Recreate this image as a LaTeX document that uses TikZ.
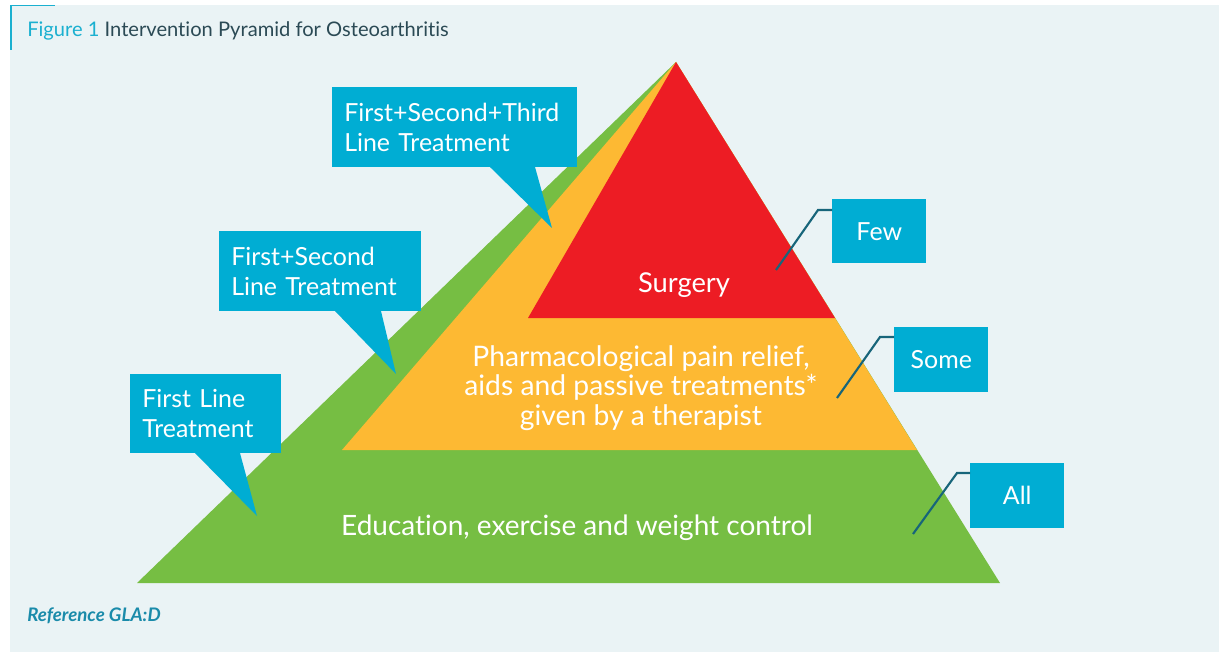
\documentclass[tikz,border=0pt]{standalone}
\usepackage{fontspec}
\setmainfont{Lato}[Ligatures={NoCommon}]
\usetikzlibrary{calc}
\definecolor{bgpanel}{HTML}{EAF3F5}
\definecolor{pgreen}{HTML}{76BE43}
\definecolor{porange}{HTML}{FDB933}
\definecolor{pred}{HTML}{ED1C24}
\definecolor{callc}{HTML}{00ADD3}
\definecolor{linkc}{HTML}{17657A}
\definecolor{titlecyan}{HTML}{1BB0D0}
\definecolor{titledark}{HTML}{2B4A55}
\definecolor{refc}{HTML}{1A8BAA}
\tikzset{
  callbox/.style={fill=callc, text=white, anchor=north west, inner ysep=0pt, inner xsep=12*0.75pt,
    font=\fontsize{18.7}{22.5}\selectfont, align=left, minimum height=80*0.75pt},
  countbox/.style={fill=callc, text=white, anchor=north west, inner sep=0pt,
    font=\fontsize{18.7}{22.5}\selectfont, align=center, minimum width=94*0.75pt, minimum height=65*0.75pt},
  tail/.style={fill=callc},
  pyrtext/.style={text=white, align=center, font=\fontsize{20.5}{22}\selectfont},
  link/.style={draw=linkc, line width=1.6pt},
}
\begin{document}
\begin{tikzpicture}[x=0.75pt,y=-0.75pt]
\useasboundingbox (0,0) rectangle (1223,652);
\fill[white] (0,0) rectangle (1223,652);
\fill[bgpanel] (10,5) rectangle (1219,652);
\draw[titlecyan, line width=0.8pt] (11,50) -- (11,5.5) -- (55,5.5);
% title
\node[anchor=base west, inner sep=0pt, font=\fontsize{15.1}{18}\selectfont] (title) at (27,37)
  {\textcolor{titlecyan}{Figure 1} \textcolor{titledark}{Intervention Pyramid for Osteoarthritis}};
\node[anchor=base west, inner sep=0pt, text=refc, font=\fontsize{14}{16}\selectfont\itshape\bfseries] (ref) at (27,621) {Reference GLA:D};
% pyramid
\fill[pgreen] (137,583) -- (676,62) -- (1000,583) -- cycle;
\fill[porange] (342,450) -- (676,62) -- (917,450) -- cycle;
\fill[pred] (528,318) -- (676,62) -- (835,318) -- cycle;
\node[pyrtext] (surg) at (684,285) {Surgery};
\node[pyrtext, font=\fontsize{21.2}{22}\selectfont] (pharm) at (641,388) {Pharmacological pain relief,\\aids and passive treatments*\\given by a therapist};
\node[pyrtext, font=\fontsize{21}{22}\selectfont] (edu) at (577,528) {Education, exercise and weight control};
% callouts
\node[callbox, text width=127*0.75pt, minimum height=79*0.75pt] (fl) at (130,374) {First Line\\Treatment};
\node[callbox, text width=178*0.75pt] (fs) at (219,231) {First+Second\\Line Treatment};
\node[callbox, text width=221*0.75pt] (fst) at (332,87) {First+Second+Third\\Line Treatment};
\coordinate (fltip) at (257,516);
\coordinate (fstip) at (396,374);
\coordinate (fsttip) at (552,228);
\fill[tail] ($(fl.south west)+(65,-0.5)$) -- (fltip) -- ($(fl.south west)+(110,-0.5)$) -- cycle;
\fill[tail] ($(fs.south west)+(116,-0.5)$) -- (fstip) -- ($(fs.south west)+(162,-0.5)$) -- cycle;
\fill[tail] ($(fst.south west)+(158,-0.5)$) -- (fsttip) -- ($(fst.south west)+(203,-0.5)$) -- cycle;
% count boxes
\node[countbox, minimum height=64*0.75pt] (few) at (832,199) {Few};
\node[countbox] (some) at (894,327) {Some};
\node[countbox] (all) at (970,463) {All};
\coordinate (fewpt) at (776,270);
\coordinate (somept) at (837,398);
\coordinate (allpt) at (913,534);
\draw[link] ($(few.north west)+(0,11)$) -- ++(-14,0) -- (fewpt);
\draw[link] ($(some.north west)+(0,10)$) -- ++(-14,0) -- (somept);
\draw[link] ($(all.north west)+(0,10)$) -- ++(-13,0) -- (allpt);
\end{tikzpicture}
\end{document}
